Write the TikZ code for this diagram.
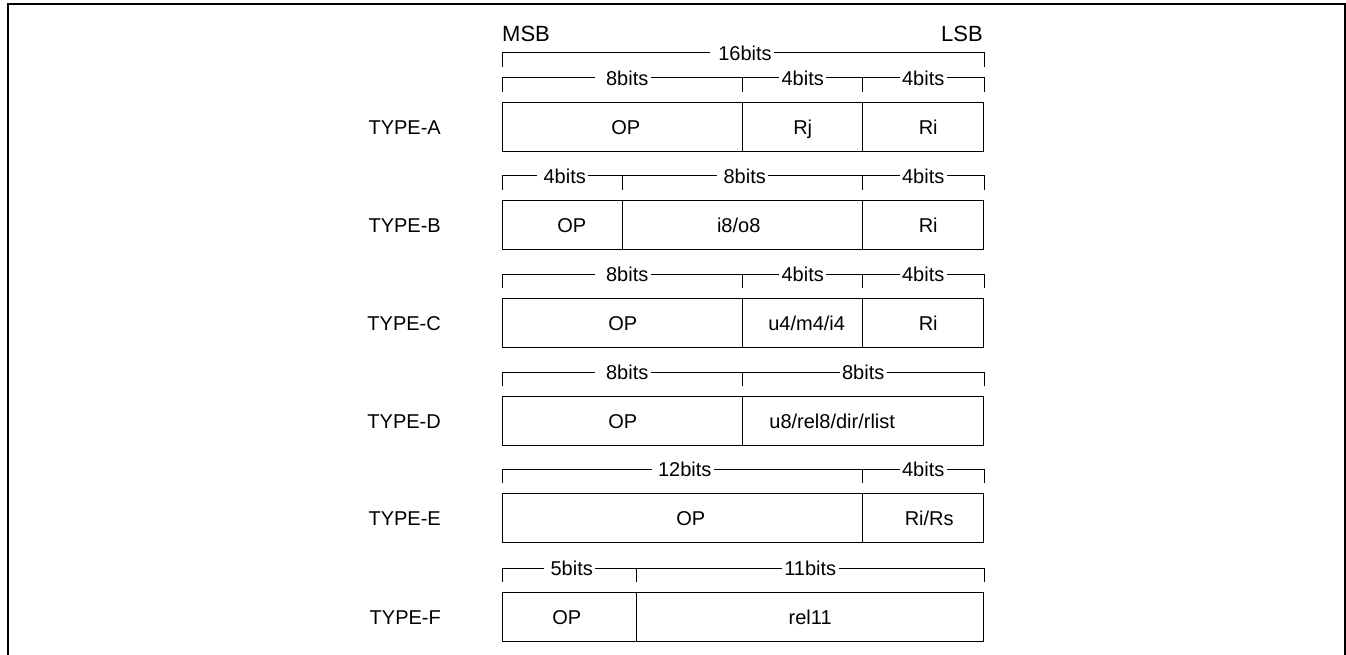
\documentclass[tikz,border=0pt]{standalone}
\usepackage{fontspec}
\setmainfont{Liberation Sans}
\begin{document}
\begin{tikzpicture}[x=1pt,y=-1pt,
  cell/.style={draw, line width=1.4pt, minimum height=49pt, inner sep=0pt, anchor=north west},
  lbl/.style={font=\fontsize{20}{24}\selectfont, inner sep=0pt, anchor=base},
  typelbl/.style={font=\fontsize{20}{24}\selectfont, inner sep=0pt, anchor=base east},
  bits/.style={font=\fontsize{20}{24}\selectfont, fill=white, inner ysep=0pt, inner xsep=2.5pt},
  brk/.style={line width=1pt}]
\useasboundingbox (0,0) rectangle (1346,655);
% outer frame
\draw[line width=2pt] (8,655) -- (8,4) -- (1345,4) -- (1345,655);

% MSB / LSB
\node[anchor=base west, font=\fontsize{22}{26}\selectfont, inner sep=0pt] (msb) at (502,42) {MSB};
\node[anchor=base east, font=\fontsize{22}{26}\selectfont, inner sep=0pt] (lsb) at (983,42) {LSB};

% ---------- TYPE-A ----------
\node[cell, minimum width=240pt] (A1) at (502,102) {};
\node[cell, minimum width=120pt] (A2) at (742,102) {};
\node[cell, minimum width=121pt] (A3) at (862,102) {};
\node[lbl, xshift=3pt, yshift=-7pt] (tA1) at (A1.center) {OP};
\node[lbl, yshift=-7pt] (tA2) at (A2.center) {Rj};
\node[lbl, xshift=5pt, yshift=-7pt] (tA3) at (A3.center) {Ri};
\node[typelbl, xshift=-61pt, yshift=-7pt] (tyA) at (A1.west) {TYPE-A};
% 16 bits bracket
\draw[brk] ([yshift=35pt]A1.north west) -- ([yshift=49pt]A1.north west) -- ([yshift=49pt]A3.north east) -- ([yshift=35pt]A3.north east);
\node[bits] (b16) at ([yshift=49pt]A2.north west) {\hspace{6pt}16bits};
% row bracket
\draw[brk] ([yshift=10pt]A1.north west) -- ([yshift=24pt]A1.north west) -- ([yshift=24pt]A3.north east) -- ([yshift=10pt]A3.north east);
\draw[brk] ([yshift=24pt]A2.north west) -- ([yshift=10pt]A2.north west);
\draw[brk] ([yshift=24pt]A3.north west) -- ([yshift=10pt]A3.north west);
\node[bits] (bA1) at ([yshift=24pt]A1.north) {\hspace{9pt}8bits};
\node[bits] (bA2) at ([yshift=24pt]A2.north) {4bits};
\node[bits] (bA3) at ([yshift=24pt]A3.north) {4bits};

% ---------- TYPE-B ----------
\node[cell, minimum width=120pt] (B1) at (502,200) {};
\node[cell, minimum width=240pt] (B2) at (622,200) {};
\node[cell, minimum width=121pt] (B3) at (862,200) {};
\node[lbl, xshift=9pt, yshift=-7pt] (tB1) at (B1.center) {OP};
\node[lbl, xshift=-4pt, yshift=-7pt] (tB2) at (B2.center) {i8/o8};
\node[lbl, xshift=5pt, yshift=-7pt] (tB3) at (B3.center) {Ri};
\node[typelbl, xshift=-61pt, yshift=-7pt] (tyB) at (B1.west) {TYPE-B};
\draw[brk] ([yshift=10pt]B1.north west) -- ([yshift=24pt]B1.north west) -- ([yshift=24pt]B3.north east) -- ([yshift=10pt]B3.north east);
\draw[brk] ([yshift=24pt]B2.north west) -- ([yshift=10pt]B2.north west);
\draw[brk] ([yshift=24pt]B3.north west) -- ([yshift=10pt]B3.north west);
\node[bits] (bB1) at ([yshift=24pt]B1.north) {\hspace{4pt}4bits\hspace{4pt}};
\node[bits] (bB2) at ([yshift=24pt]B2.north) {\hspace{4pt}8bits\hspace{4pt}};
\node[bits] (bB3) at ([yshift=24pt]B3.north) {4bits};

% ---------- TYPE-C ----------
\node[cell, minimum width=240pt] (C1) at (502,298) {};
\node[cell, minimum width=120pt] (C2) at (742,298) {};
\node[cell, minimum width=121pt] (C3) at (862,298) {};
\node[lbl, yshift=-7pt] (tC1) at (C1.center) {OP};
\node[lbl, xshift=4pt, yshift=-7pt] (tC2) at (C2.center) {u4/m4/i4};
\node[lbl, xshift=5pt, yshift=-7pt] (tC3) at (C3.center) {Ri};
\node[typelbl, xshift=-61pt, yshift=-7pt] (tyC) at (C1.west) {TYPE-C};
\draw[brk] ([yshift=10pt]C1.north west) -- ([yshift=24pt]C1.north west) -- ([yshift=24pt]C3.north east) -- ([yshift=10pt]C3.north east);
\draw[brk] ([yshift=24pt]C2.north west) -- ([yshift=10pt]C2.north west);
\draw[brk] ([yshift=24pt]C3.north west) -- ([yshift=10pt]C3.north west);
\node[bits] (bC1) at ([yshift=24pt]C1.north) {\hspace{9pt}8bits};
\node[bits] (bC2) at ([yshift=24pt]C2.north) {4bits};
\node[bits] (bC3) at ([yshift=24pt]C3.north) {4bits};

% ---------- TYPE-D ----------
\node[cell, minimum width=240pt] (D1) at (502,396) {};
\node[cell, minimum width=241pt] (D2) at (742,396) {};
\node[lbl, yshift=-7pt] (tD1) at (D1.center) {OP};
\node[lbl, xshift=-31pt, yshift=-7pt] (tD2) at (D2.center) {u8/rel8/dir/rlist};
\node[typelbl, xshift=-61pt, yshift=-7pt] (tyD) at (D1.west) {TYPE-D};
\draw[brk] ([yshift=10pt]D1.north west) -- ([yshift=24pt]D1.north west) -- ([yshift=24pt]D2.north east) -- ([yshift=10pt]D2.north east);
\draw[brk] ([yshift=24pt]D2.north west) -- ([yshift=10pt]D2.north west);
\node[bits] (bD1) at ([yshift=24pt]D1.north) {\hspace{9pt}8bits};
\node[bits] (bD2) at ([yshift=24pt]D2.north) {8bits};

% ---------- TYPE-E ----------
\node[cell, minimum width=360pt] (E1) at (502,493) {};
\node[cell, minimum width=121pt] (E3) at (862,493) {};
\node[lbl, xshift=8pt, yshift=-7pt] (tE1) at (E1.center) {OP};
\node[lbl, xshift=6pt, yshift=-7pt] (tE3) at (E3.center) {Ri/Rs};
\node[typelbl, xshift=-61pt, yshift=-7pt] (tyE) at (E1.west) {TYPE-E};
\draw[brk] ([yshift=10pt]E1.north west) -- ([yshift=24pt]E1.north west) -- ([yshift=24pt]E3.north east) -- ([yshift=10pt]E3.north east);
\draw[brk] ([yshift=24pt]E3.north west) -- ([yshift=10pt]E3.north west);
\node[bits] (bE1) at ([yshift=24pt]E1.north) {\hspace{4pt}12bits\hspace{4pt}};
\node[bits] (bE3) at ([yshift=24pt]E3.north) {4bits};

% ---------- TYPE-F ----------
\node[cell, minimum width=134pt] (F1) at (502,592) {};
\node[cell, minimum width=347pt] (F2) at (636,592) {};
\node[lbl, xshift=-3pt, yshift=-7pt] (tF1) at (F1.center) {OP};
\node[lbl, yshift=-7pt] (tF2) at (F2.center) {rel11};
\node[typelbl, xshift=-61pt, yshift=-7pt] (tyF) at (F1.west) {TYPE-F};
\draw[brk] ([yshift=10pt]F1.north west) -- ([yshift=24pt]F1.north west) -- ([yshift=24pt]F2.north east) -- ([yshift=10pt]F2.north east);
\draw[brk] ([yshift=24pt]F2.north west) -- ([yshift=10pt]F2.north west);
\node[bits] (bF1) at ([yshift=24pt]F1.north) {\hspace{4pt}5bits\hspace{4pt}};
\node[bits] (bF2) at ([yshift=24pt]F2.north) {11bits};
\end{tikzpicture}
\end{document}
